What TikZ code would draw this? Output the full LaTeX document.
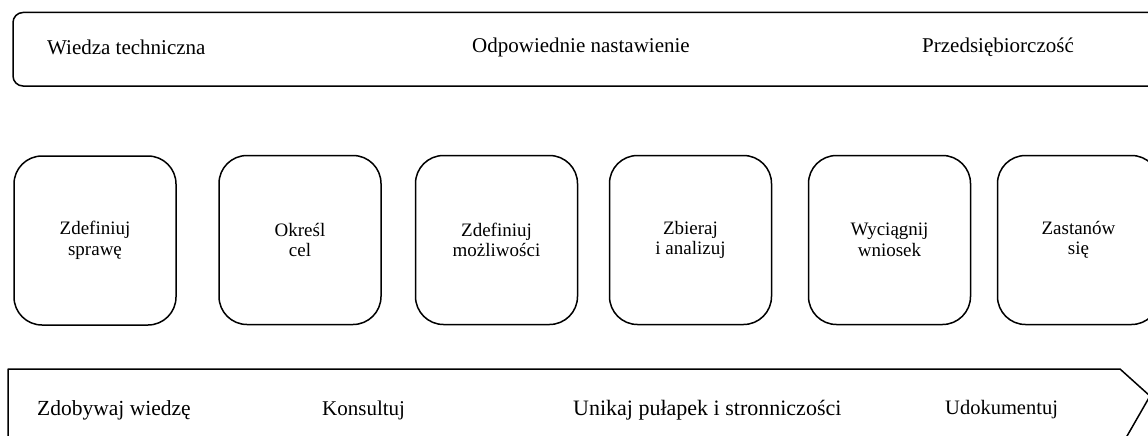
\documentclass[tikz,border=0pt]{standalone}
\usepackage{fontspec}
\setmainfont{Liberation Serif}
\begin{document}
\begin{tikzpicture}[x=1pt,y=-1pt,
  outline/.style={draw=black,line width=1.5pt,line join=round},
  stepbox/.style={outline,rounded corners=28pt,minimum width=162pt,minimum height=169pt,
    align=center,inner sep=0pt,font=\fontsize{19}{20.5}\selectfont},
  label/.style={anchor=west,inner sep=0pt,font=\fontsize{21}{24}\selectfont}]
\useasboundingbox (0,0) rectangle (1148,436);
\clip (0,0) rectangle (1148,436);

% upper band: skills
\draw[outline,rounded corners=10pt] (1170,12.5) -- (13,12.5) -- (13,86) -- (1170,86);
\node[label] (t1) at (47,47) {Wiedza techniczna};
\node[label] (t2) at (472,47) {Odpowiednie nastawienie};
\node[label] (t3) at (922,47) {Przedsiębiorczość};

% process steps
\node[stepbox] (s1) at (95,240.5) {Zdefiniuj\\sprawę};
\node[stepbox] (s2) at (300,240) {Określ\\cel};
\node[stepbox] (s3) at (496.5,240) {Zdefiniuj\\możliwości};
\node[stepbox] (s4) at (690.5,240) {Zbieraj\\i analizuj};
\node[stepbox] (s5) at (889.5,240) {Wyciągnij\\wniosek};
\node[stepbox] (s6) at (1078.5,240) {Zastanów\\się};

% lower arrow band: supporting activities
\draw[outline] (8,450) -- (8,369) -- (1120,369) -- (1150,396) -- (1119,450);
\node[label,font=\fontsize{21.5}{24}\selectfont] (b1) at (37,410) {Zdobywaj wiedzę};
\node[label] (b2) at (322,410) {Konsultuj};
\node[label,font=\fontsize{22}{24}\selectfont] (b3) at (573,410) {Unikaj pułapek i stronniczości};
\node[label,font=\fontsize{20.5}{24}\selectfont] (b4) at (945,410) {Udokumentuj};
\end{tikzpicture}
\end{document}
